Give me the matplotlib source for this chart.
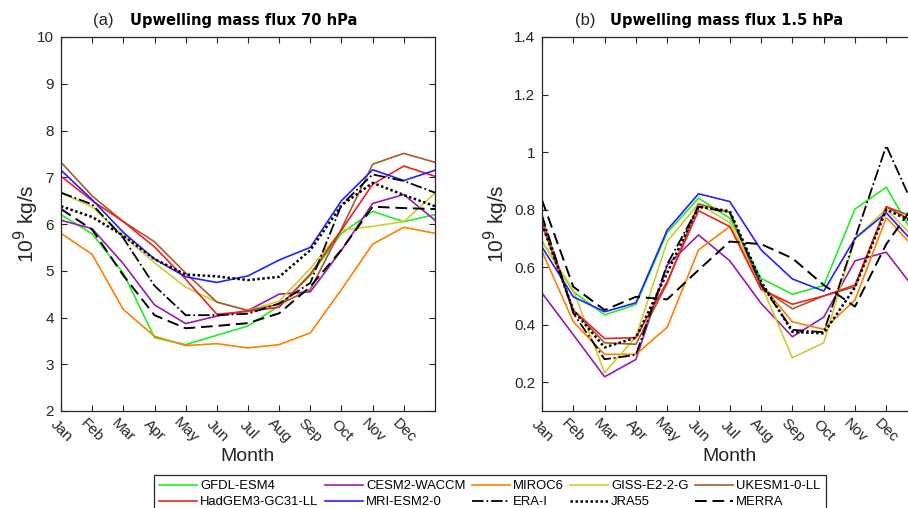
import matplotlib
matplotlib.use("Agg")
import matplotlib.pyplot as plt

plt.rcParams['font.family'] = ['Liberation Sans', 'DejaVu Sans']

months = ["Jan", "Feb", "Mar", "Apr", "May", "Jun", "Jul", "Aug", "Sep", "Oct", "Nov", "Dec"]
names = ["GFDL-ESM4", "CESM2-WACCM", "MIROC6", "GISS-E2-2-G", "UKESM1-0-LL",
         "HadGEM3-GC31-LL", "MRI-ESM2-0", "ERA-I", "JRA55", "MERRA"]

# 70 hPa, Jan..Dec (Jan repeated at the end to close the cycle)
gfdl_70 = [6.20, 5.79, 4.95, 3.57, 3.42, 3.62, 3.82, 4.25, 4.90, 5.80, 6.27, 6.05]
cesm_70 = [6.08, 5.90, 5.15, 4.27, 3.87, 4.03, 4.15, 4.50, 4.55, 5.44, 6.44, 6.63]
miroc_70 = [5.80, 5.35, 4.17, 3.60, 3.40, 3.44, 3.35, 3.42, 3.67, 4.60, 5.57, 5.93]
giss_70 = [6.66, 6.37, 5.75, 5.17, 4.65, 4.33, 4.15, 4.35, 5.05, 5.87, 5.95, 6.05]
ukesm_70 = [7.32, 6.60, 6.05, 5.62, 4.95, 4.33, 4.15, 4.28, 4.60, 5.90, 7.28, 7.51]
hadgem_70 = [7.02, 6.50, 6.05, 5.51, 4.82, 4.07, 4.13, 4.22, 4.93, 5.87, 6.85, 7.24]
mri_70 = [7.15, 6.52, 5.82, 5.25, 4.87, 4.75, 4.89, 5.23, 5.50, 6.50, 7.16, 6.93]
erai_70 = [6.67, 6.42, 5.70, 4.68, 4.05, 4.05, 4.08, 4.30, 4.74, 6.41, 7.06, 6.92]
jra_70 = [6.38, 6.15, 5.75, 5.25, 4.92, 4.88, 4.80, 4.87, 5.44, 6.40, 6.88, 6.62]
merra_70 = [6.32, 5.88, 4.90, 4.05, 3.77, 3.82, 3.88, 4.09, 4.66, 5.45, 6.37, 6.34]

# 1.5 hPa
gfdl_15 = [0.69, 0.515, 0.434, 0.47, 0.72, 0.84, 0.77, 0.561, 0.506, 0.536, 0.802, 0.878]
cesm_15 = [0.51, 0.365, 0.219, 0.279, 0.607, 0.712, 0.622, 0.474, 0.358, 0.426, 0.622, 0.652]
miroc_15 = [0.655, 0.41, 0.297, 0.297, 0.391, 0.66, 0.741, 0.54, 0.41, 0.384, 0.486, 0.772]
giss_15 = [0.689, 0.52, 0.233, 0.358, 0.689, 0.82, 0.755, 0.54, 0.285, 0.337, 0.70, 0.802]
ukesm_15 = [0.77, 0.45, 0.337, 0.332, 0.544, 0.82, 0.79, 0.53, 0.455, 0.50, 0.532, 0.81]
hadgem_15 = [0.75, 0.45, 0.352, 0.355, 0.55, 0.796, 0.741, 0.523, 0.471, 0.50, 0.538, 0.81]
mri_15 = [0.67, 0.497, 0.445, 0.476, 0.729, 0.855, 0.828, 0.66, 0.559, 0.517, 0.70, 0.789]
erai_15 = [0.78, 0.44, 0.28, 0.295, 0.61, 0.81, 0.79, 0.54, 0.382, 0.374, 0.70, 1.022]
jra_15 = [0.75, 0.45, 0.321, 0.355, 0.58, 0.81, 0.795, 0.55, 0.375, 0.37, 0.53, 0.80]
merra_15 = [0.833, 0.532, 0.451, 0.497, 0.488, 0.59, 0.689, 0.68, 0.631, 0.538, 0.463, 0.68]

data_70 = [gfdl_70, cesm_70, miroc_70, giss_70, ukesm_70, hadgem_70, mri_70, erai_70, jra_70, merra_70]
data_15 = [gfdl_15, cesm_15, miroc_15, giss_15, ukesm_15, hadgem_15, mri_15, erai_15, jra_15, merra_15]

colors = ["#22EE22", "#9A1AAE", "#FF8000", "#CCCC33", "#A65A32",
          "#EE2222", "#2222FF", "black", "black", "black"]
styles = ["-", "-", "-", "-", "-", "-", "-", "-.", (0, (1, 1)), (0, (6, 3))]
widths = [1.2] * 7 + [1.3, 1.8, 1.4]

GRAY = "#262626"
W, H = 908, 508
fig = plt.figure(figsize=(W / 100, H / 100), dpi=100)
ax1 = fig.add_axes([61 / W, (H - 411) / H, 374 / W, 374 / H])
ax2 = fig.add_axes([542 / W, (H - 411) / H, 375.6 / W, 374 / H])

x = list(range(1, 14))
handles = []
for i in range(len(names)):
    h, = ax1.plot(x, data_70[i] + data_70[i][:1], color=colors[i], ls=styles[i], lw=widths[i], label=names[i])
    ax2.plot(x, data_15[i] + data_15[i][:1], color=colors[i], ls=styles[i], lw=widths[i])
    handles.append(h)

ax1.set_ylim(2, 10)
ax1.set_yticks(range(2, 11))
ax2.set_ylim(0.1, 1.4)
ax2.set_yticks([0.2, 0.4, 0.6, 0.8, 1.0, 1.2, 1.4])
ax2.set_yticklabels(["0.2", "0.4", "0.6", "0.8", "1", "1.2", "1.4"])

for ax in (ax1, ax2):
    ax.set_xlim(1, 13)
    ax.set_xticks(range(1, 13))
    ax.set_xticklabels(months, rotation=-45, ha="center", va="center", rotation_mode="anchor")
    ax.tick_params(direction="in", top=True, right=True, length=4, width=0.8,
                   colors=GRAY, labelsize=11, pad=5)
    ax.tick_params(axis="x", pad=14)
    for s in ax.spines.values():
        s.set_color(GRAY)
        s.set_linewidth(0.9)
    ax.set_xlabel("Month", fontsize=14, color=GRAY, labelpad=2)
    ax.set_ylabel("10$^9$ kg/s", fontsize=15, color=GRAY)

ax1.yaxis.set_label_coords((41 - 61) / 374, 0.5)
ax2.yaxis.set_label_coords((511 - 542) / 375.6, 0.5)

fig.text(103 / W, 1 - 21 / H, "(a)", ha="center", va="center", fontsize=12, color=GRAY)
fig.text(244 / W, 1 - 21 / H, "Upwelling mass flux 70 hPa", ha="center", va="center",
         fontsize=10.5, fontweight="bold", family="DejaVu Sans")
fig.text(585 / W, 1 - 21 / H, "(b)", ha="center", va="center", fontsize=12, color=GRAY)
fig.text(727 / W, 1 - 21 / H, "Upwelling mass flux 1.5 hPa", ha="center", va="center",
         fontsize=10.5, fontweight="bold", family="DejaVu Sans")

order = [0, 5, 1, 6, 2, 7, 3, 8, 4, 9]
leg = fig.legend([handles[k] for k in order], [names[k] for k in order], ncol=5,
                 loc="upper left", bbox_to_anchor=(154 / W, 1 - 475 / H), borderaxespad=0,
                 fontsize=9.4, handlelength=2.9, handletextpad=0.25, columnspacing=0.48,
                 labelspacing=0.28, borderpad=0.4, fancybox=False, framealpha=1,
                 edgecolor=GRAY)
leg.get_frame().set_linewidth(0.9)

fig.savefig("out.png", dpi=100)
